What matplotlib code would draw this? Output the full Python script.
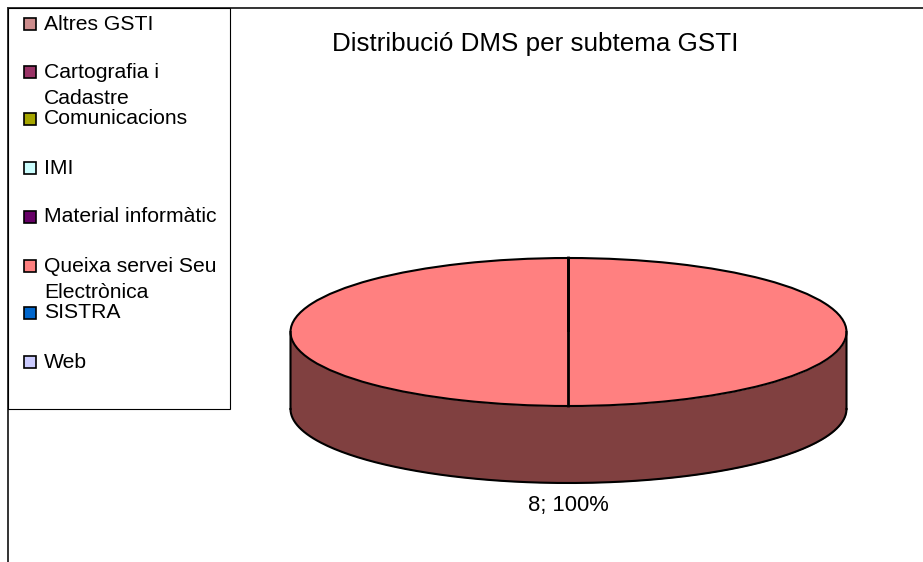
import numpy as np
import matplotlib
matplotlib.use("Agg")
import matplotlib.pyplot as plt
from matplotlib.patches import Rectangle

plt.rcParams['font.family'] = ['Liberation Sans', 'DejaVu Sans']

categories = ["Altres GSTI", "Cartografia i\nCadastre", "Comunicacions", "IMI",
              "Material informàtic", "Queixa servei Seu\nElectrònica", "SISTRA", "Web"]
values = [0, 0, 0, 0, 0, 8, 0, 0]
colors = ["#cc8c8c", "#993366", "#a6a600", "#ccffff",
          "#660066", "#ff8080", "#0066cc", "#ccccff"]
side_color = "#804040"
title = "Distribució DMS per subtema GSTI"
label = "8; 100%"

W, H = 923, 562
fig = plt.figure(figsize=(W / 100, H / 100), dpi=100)

# whole figure in pixel coordinates for frame, legend and text
ax = fig.add_axes([0, 0, 1, 1])
ax.set_xlim(0, W)
ax.set_ylim(H, 0)
ax.axis('off')

ax.plot([8, 8], [8, H], color='#333333', lw=1.4, zorder=1)
ax.plot([8, 923], [8, 8], color='#333333', lw=1.4, zorder=1)
ax.add_patch(Rectangle((8, 8), 222, 401, fc='white', ec='black', lw=0.8, zorder=2))

ax.text(535.5, 44, title, fontsize=18.7, ha='center', va='center', color='black')
ax.text(568, 505, label, fontsize=15.8, ha='center', va='center', color='black')

legend_y = [24, 72, 119, 168, 217, 266, 313, 362]
for name, c, y in zip(categories, colors, legend_y):
    ax.add_patch(Rectangle((24, y - 6), 12, 12, fc=c, ec='black', lw=1.2, zorder=3))
    lines = name.split("\n")
    for i, line in enumerate(lines):
        ax.text(44, y + i * 27, line, fontsize=15.2, ha='left', va='center', color='black', zorder=3)

# pie: elliptical axes so the disc comes out flattened
cx, cy, rx, ry, depth = 568.5, 332, 278, 74, 77
pie_ax = fig.add_axes([(cx - rx) / W, 1 - (cy + ry + depth) / H, 2 * rx / W, (2 * ry + depth) / H])
pie_ax.patch.set_alpha(0)
pie_ax.pie(values, colors=colors, startangle=90, counterclock=False, radius=1,
           wedgeprops={'edgecolor': 'black', 'linewidth': 1.5})
pie_ax.set_aspect('auto')
pie_ax.set_xlim(-1, 1)
drop = depth / ry
pie_ax.set_ylim(-1 - drop, 1)

t = np.linspace(np.pi, 2 * np.pi, 200)
xs = np.cos(t)
top = np.sin(t)
bottom = top - drop
pie_ax.fill_between(xs, bottom, top, color=side_color, lw=0, zorder=0.5)
pie_ax.plot(xs, bottom, color='black', lw=1.5, zorder=1.5, clip_on=False)
pie_ax.plot([-1, -1], [0, -drop], color='black', lw=1.5, clip_on=False, snap=False)
pie_ax.plot([1, 1], [0, -drop], color='black', lw=1.5, clip_on=False, snap=False)
pie_ax.plot([0, 0], [-1, 1], color='black', lw=2, zorder=5, clip_on=False, snap=False)

fig.savefig("out.png", dpi=100)
